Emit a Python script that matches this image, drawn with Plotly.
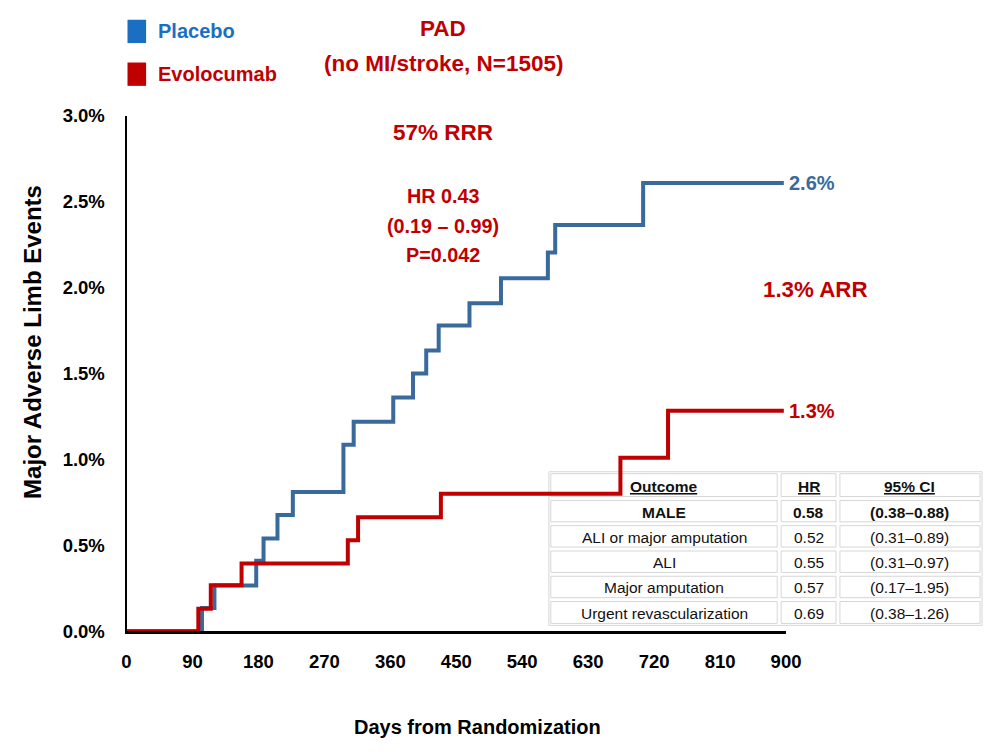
import plotly.graph_objects as go

# ---- data ----
placebo_days = [0, 103, 120, 177, 187, 206, 227, 296, 310, 364, 391, 409, 426, 468, 511, 575, 585, 705, 897]
placebo_pct = [0, 0.135, 0.266, 0.41, 0.54, 0.676, 0.81, 1.086, 1.219, 1.36, 1.50, 1.635, 1.78, 1.91, 2.055, 2.205, 2.365, 2.61, 2.61]
evo_days = [0, 98, 115, 157, 302, 316, 429, 674, 739, 897]
evo_pct = [0, 0.13, 0.267, 0.394, 0.53, 0.663, 0.80, 1.01, 1.284, 1.284]

x_ticks = [0, 90, 180, 270, 360, 450, 540, 630, 720, 810, 900]
y_ticks = [0, 0.5, 1.0, 1.5, 2.0, 2.5, 3.0]

table_header = ["Outcome", "HR", "95% CI"]
outcomes = ["MALE", "ALI or major amputation", "ALI", "Major amputation", "Urgent revascularization"]
hrs = ["0.58", "0.52", "0.55", "0.57", "0.69"]
cis = ["(0.38–0.88)", "(0.31–0.89)", "(0.31–0.97)", "(0.17–1.95)", "(0.38–1.26)"]
bold_rows = [True, False, False, False, False]

# ---- style ----
W, H = 998, 752
BLUE_LINE = "#3A6A9C"
BLUE_LEG = "#1A6FC2"
RED = "#C00000"
FONT = "Liberation Sans, Arial, sans-serif"

# table geometry (pixels)
col_edges = [555, 790, 850, 997]
row_edges = [474, 501.5, 527.5, 553.5, 579.5, 605.5, 632]


def px(x):
    return x / W


def py(y):
    return 1 - y / H


fig = go.Figure()
fig.add_trace(go.Scatter(x=placebo_days, y=placebo_pct, mode="lines", line=dict(shape="hv", color=BLUE_LINE, width=4),
                         showlegend=False, hoverinfo="skip"))
fig.add_trace(go.Scatter(x=evo_days, y=evo_pct, mode="lines", line=dict(shape="hv", color=RED, width=4),
                         showlegend=False, hoverinfo="skip"))

annotations = []
shapes = []


def ann(text, x, y, size, color, xanchor="center", weight="bold", **kw):
    annotations.append(dict(text=text, x=px(x), y=py(y), xref="paper", yref="paper", showarrow=False,
                            xanchor=xanchor, yanchor="middle",
                            font=dict(family=FONT, size=size, color=color, weight=weight), **kw))


ann("PAD", 447, 18, 22.5, RED)
ann("(no MI/stroke, N=1505)", 447, 54, 22.5, RED)
ann("57% RRR", 447, 125, 22.5, RED)
ann("HR 0.43", 447, 190, 19.8, RED)
ann("(0.19 – 0.99)", 447, 221, 19.8, RED)
ann("P=0.042", 447, 251, 19.8, RED)
ann("1.3% ARR", 827, 287, 22.3, RED)
ann("Placebo", 154, 21, 20, BLUE_LEG, xanchor="left")
ann("Evolocumab", 154, 65, 20, RED, xanchor="left")
ann("Days from Randomization", 482, 737, 20, "#000")
ann("Major Adverse Limb Events", 28, 340, 24, "#000", textangle=-90)

# end-of-line labels from data
for days, pct, col in [(placebo_days, placebo_pct, BLUE_LINE), (evo_days, evo_pct, RED)]:
    annotations.append(dict(text=f"{pct[-1]:.1f}%", x=days[-1], y=pct[-1], xref="x", yref="y",
                            showarrow=False, xanchor="left", yanchor="middle", xshift=3,
                            font=dict(family=FONT, size=20, color=col, weight="bold")))

# legend squares
shapes.append(dict(type="rect", xref="paper", yref="paper", x0=px(125), x1=px(144), y0=py(33), y1=py(9),
                   fillcolor=BLUE_LEG, line=dict(width=0)))
shapes.append(dict(type="rect", xref="paper", yref="paper", x0=px(125), x1=px(144), y0=py(77), y1=py(53),
                   fillcolor=RED, line=dict(width=0)))

# table: outer border + cell borders + texts
BORDER = "#d6d6d6"
shapes.append(dict(type="rect", xref="paper", yref="paper", layer="below",
                   x0=px(col_edges[0]), x1=px(col_edges[-1]), y0=py(row_edges[-1]), y1=py(row_edges[0]),
                   line=dict(color=BORDER, width=1), fillcolor="rgba(0,0,0,0)"))
rows = [table_header] + [[o, h, c] for o, h, c in zip(outcomes, hrs, cis)]
for r, row in enumerate(rows):
    y0, y1 = row_edges[r], row_edges[r + 1]
    for c, txt in enumerate(row):
        x0, x1 = col_edges[c], col_edges[c + 1]
        shapes.append(dict(type="rect", xref="paper", yref="paper", layer="below",
                           x0=px(x0 + 2), x1=px(x1 - 2), y0=py(y1 - 2), y1=py(y0 + 2),
                           line=dict(color=BORDER, width=1), fillcolor="rgba(0,0,0,0)"))
        if r == 0:
            t = f"<u>{txt}</u>"
            w = "bold"
        else:
            t = txt
            w = "bold" if bold_rows[r - 1] else "normal"
        ann(t, (x0 + x1) / 2, (y0 + y1) / 2 + 1, 15.5, "#111", weight=w)

fig.update_layout(
    width=W, height=H, margin=dict(l=0, r=0, t=0, b=0),
    paper_bgcolor="white", plot_bgcolor="white",
    annotations=annotations, shapes=shapes, showlegend=False,
    xaxis=dict(domain=[px(124), px(797)], range=[0, 900], tickvals=x_ticks, ticktext=[str(v) for v in x_ticks],
               showline=True, linecolor="black", linewidth=2.5, ticks="", showgrid=False, zeroline=False,
               tickfont=dict(family=FONT, size=18.5, color="#000", weight="bold"), ticklabelstandoff=12),
    yaxis=dict(domain=[py(638), py(108)], range=[0, 3], tickvals=y_ticks, ticktext=[f"{v:.1f}%" for v in y_ticks],
               showline=True, linecolor="black", linewidth=2, ticks="", showgrid=False, zeroline=False,
               tickfont=dict(family=FONT, size=18.5, color="#000", weight="bold"), ticklabelstandoff=16),
)

fig.write_html("out.html")
